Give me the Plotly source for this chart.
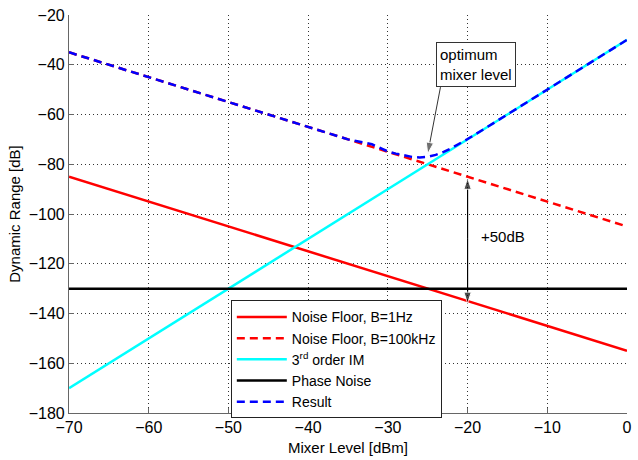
import plotly.graph_objects as go

# Data
x_line = [-70, 0]
noise_1hz = [-85, -155]
noise_100khz = [-35, -105]
im3 = [-170, -30]
phase_noise = [-130, -130]

x_result = [-70, -40, -35, -32, -30, -29, -28, -27, -26, -25, -24, -23, -22, -21, -20, -18, -15, 0]
result = [-35, -65, -70, -71.97, -74.87, -75.73, -76.49, -77.03, -77.24, -76.99, -76.24,
          -75.03, -73.49, -71.73, -69.86, -65.97, -60.0, -30]

x_ticks = [-70, -60, -50, -40, -30, -20, -10, 0]
y_ticks = [-180, -160, -140, -120, -100, -80, -60, -40, -20]

# annotation anchors (data units)
opt_tip = (-25, -75.8)
opt_tail = (-23.4, -49)
range_x = -20
range_top = -85.5
range_bottom = -136
range_mid = -110

FONT = "Liberation Sans, Arial, sans-serif"
fig = go.Figure()
fig.add_trace(go.Scatter(x=x_line, y=noise_1hz, mode="lines", name="Noise Floor, B=1Hz",
                         line=dict(color="#ff0000", width=2.5)))
fig.add_trace(go.Scatter(x=x_line, y=noise_100khz, mode="lines", name="Noise Floor, B=100kHz",
                         line=dict(color="#ff0000", width=2.5, dash="8px,5px")))
fig.add_trace(go.Scatter(x=x_line, y=im3, mode="lines", name="3<sup>rd</sup> order IM",
                         line=dict(color="#00ffff", width=2.5)))
fig.add_trace(go.Scatter(x=x_line, y=phase_noise, mode="lines", name="Phase Noise",
                         line=dict(color="#000000", width=2.5)))
fig.add_trace(go.Scatter(x=x_result, y=result, mode="lines", name="Result",
                         line=dict(color="#0000ff", width=2.5, dash="8px,5px")))

# arrows drawn as line traces with arrow markers at their ends
def arrow(x0, y0, x1, y1, color, width):
    fig.add_trace(go.Scatter(x=[x0, x1], y=[y0, y1], mode="lines+markers", showlegend=False,
                             hoverinfo="skip", line=dict(color=color, width=width),
                             marker=dict(symbol="arrow", size=[0, 12], angleref="previous",
                                         color=color)))

arrow(opt_tail[0], opt_tail[1], opt_tip[0], opt_tip[1], "#333333", 1)
arrow(range_x, range_mid, range_x, range_top, "black", 1.2)
arrow(range_x, range_mid, range_x, range_bottom, "black", 1.2)

fig.add_annotation(x=-18.9, y=-39.7, text="optimum<br>mixer level", showarrow=False,
                   font=dict(family=FONT, size=15, color="black"), align="left",
                   bordercolor="#333333", borderwidth=1, borderpad=3, bgcolor="white")
fig.add_annotation(x=-18.6, y=-109, text="+50dB", showarrow=False, xanchor="left",
                   font=dict(family=FONT, size=15, color="black"))

axis_common = dict(showgrid=True, gridcolor="#333333", griddash="1px,3px", gridwidth=1,
                   showline=True, linecolor="#666666", linewidth=1.2, ticks="inside",
                   ticklen=5, tickcolor="#666666", zeroline=False,
                   tickfont=dict(family=FONT, size=16, color="black"))
fig.update_xaxes(range=[-70, 0], tickvals=x_ticks, **axis_common,
                 title=dict(text="Mixer Level [dBm]", font=dict(family=FONT, size=15, color="black"),
                            standoff=7))
fig.update_yaxes(range=[-180, -20], tickvals=y_ticks, **axis_common,
                 title=dict(text="Dynamic Range [dB]", font=dict(family=FONT, size=15, color="black"),
                            standoff=4))
fig.update_layout(
    width=638, height=460, margin=dict(l=69, r=6, t=15, b=46),
    paper_bgcolor="white", plot_bgcolor="white", showlegend=True,
    legend=dict(x=0.29, y=0.283, xanchor="left", yanchor="top", bgcolor="white",
                bordercolor="#222222", borderwidth=1, itemwidth=50,
                font=dict(family=FONT, size=14, color="black"), tracegroupgap=0),
    font=dict(family=FONT),
)
fig.write_html("out.html")
